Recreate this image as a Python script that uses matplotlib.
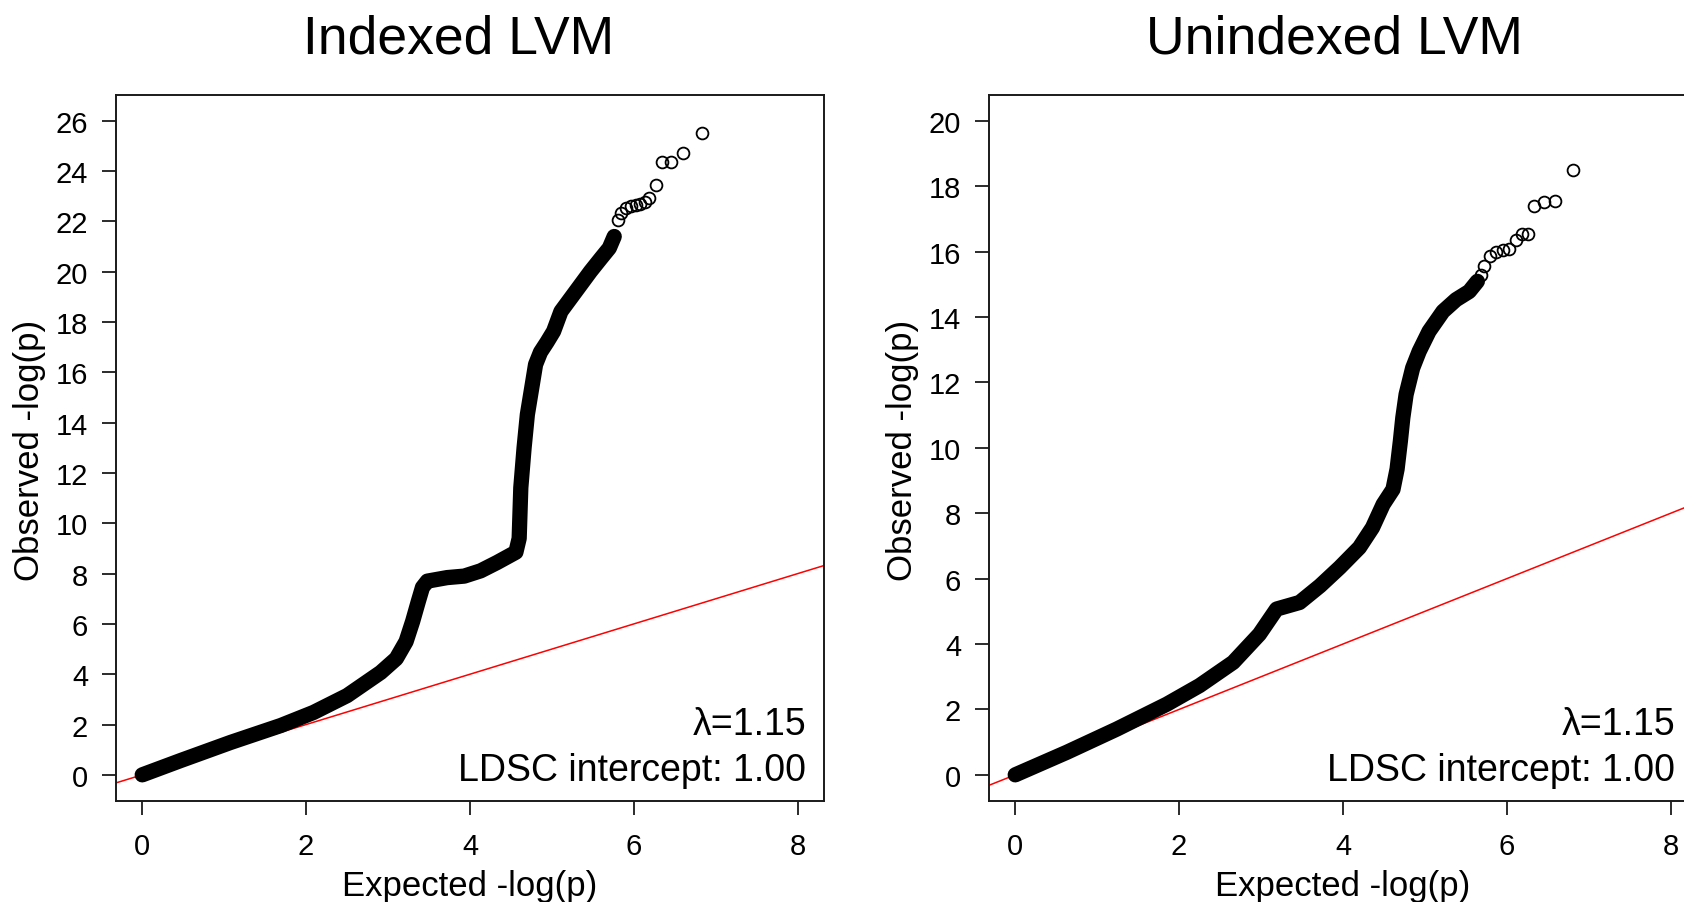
import matplotlib
matplotlib.use("Agg")
import matplotlib.pyplot as plt

plt.rcParams["font.family"] = ["Liberation Sans", "DejaVu Sans"]

# ---------------------------------------------------------
# Data
# ---------------------------------------------------------

# Indexed LVM: dense band of points
idx_band_x = [0.0, 0.47, 1.08, 1.69, 2.09, 2.50, 2.91, 3.10, 3.22, 3.30,
              3.37, 3.42, 3.48, 3.72, 3.93, 4.13, 4.33, 4.56, 4.60, 4.62,
              4.66, 4.70, 4.76, 4.80, 4.86, 4.94, 5.02, 5.11, 5.23, 5.35,
              5.47, 5.60, 5.70, 5.76]
idx_band_y = [0.0, 0.57, 1.29, 1.96, 2.48, 3.15, 4.07, 4.62, 5.30, 6.10,
              6.90, 7.45, 7.70, 7.84, 7.90, 8.11, 8.44, 8.85, 9.40, 11.41,
              13.0, 14.32, 15.51, 16.31, 16.80, 17.20, 17.63, 18.42, 18.95, 19.48,
              20.01, 20.54, 20.94, 21.40]

# Indexed LVM: sparse top points
idx_tail_x = [5.81, 5.84, 5.90, 5.96, 6.02, 6.08, 6.13, 6.18, 6.27, 6.34,
              6.45, 6.60, 6.83]
idx_tail_y = [22.06, 22.33, 22.52, 22.63, 22.66, 22.68, 22.76, 22.92, 23.45, 24.35,
              24.38, 24.73, 25.53]

# Unindexed LVM: dense band of points
unidx_band_x = [0.0, 0.63, 1.24, 1.85, 2.25, 2.66, 2.98, 3.19, 3.47, 3.72,
                3.96, 4.20, 4.36, 4.49, 4.61, 4.66, 4.70, 4.73, 4.77, 4.85,
                4.93, 5.05, 5.22, 5.38, 5.54, 5.64]
unidx_band_y = [0.0, 0.69, 1.40, 2.16, 2.73, 3.44, 4.30, 5.07, 5.27, 5.78,
                6.34, 6.95, 7.56, 8.27, 8.73, 9.35, 10.2, 10.92, 11.63, 12.44,
                12.95, 13.56, 14.17, 14.53, 14.78, 15.09]

# Unindexed LVM: sparse top points
unidx_tail_x = [5.68, 5.72, 5.79, 5.87, 5.95, 6.03, 6.11, 6.19, 6.26, 6.33,
                6.45, 6.59, 6.81]
unidx_tail_y = [15.29, 15.55, 15.85, 16.00, 16.05, 16.08, 16.36, 16.53, 16.54, 17.40,
                17.53, 17.55, 18.50]

titles = ["Indexed LVM", "Unindexed LVM"]
lambda_text = "\u03bb=1.15"
ldsc_text = "LDSC intercept: 1.00"

W, H = 1684, 903


def px_x(v):
    return v / W


def px_y(v):
    return (H - v) / H


# ---------------------------------------------------------
# One QQ panel
# ---------------------------------------------------------
def qq_panel(fig, left_px, band_x, band_y, tail_x, tail_y, y_max, text_right):

    ax = fig.add_axes([
        px_x(left_px),
        px_y(802),
        708 / W,
        706.4 / H
    ])

    pad_y = y_max * 0.04
    ax.set_xlim(-0.32, 8.32)
    ax.set_ylim(-pad_y, y_max + pad_y)

    ax.axline((0, 0), slope=1, color="red", lw=1.1, zorder=1)

    ax.plot(band_x, band_y, color="black", lw=11,
            solid_capstyle="round", solid_joinstyle="round", zorder=2)

    ax.plot(tail_x, tail_y, linestyle="none", marker="o", ms=8.5,
            mfc="none", mec="black", mew=1.3, zorder=3)

    ax.set_xticks(range(0, 9, 2))
    ax.set_yticks(range(0, int(y_max) + 1, 2))

    ax.tick_params(axis="both", direction="out", length=10, width=1.3,
                   labelsize=21, color="#1a1a1a")
    ax.tick_params(axis="x", pad=12.5)
    ax.tick_params(axis="y", pad=10)

    for s in ax.spines.values():
        s.set_linewidth(1.4)
        s.set_color("#1a1a1a")

    ax.text(text_right, 0.0948, lambda_text, transform=ax.transAxes,
            ha="right", va="baseline", fontsize=27)
    ax.text(text_right, 0.0297, ldsc_text, transform=ax.transAxes,
            ha="right", va="baseline", fontsize=27)

    return ax


fig = plt.figure(figsize=(W / 100, H / 100), dpi=100)

qq_panel(fig, 116, idx_band_x, idx_band_y, idx_tail_x, idx_tail_y, 26, 0.9746)
qq_panel(fig, 989, unidx_band_x, unidx_band_y, unidx_tail_x, unidx_tail_y, 20, 0.969)

# ---------------------------------------------------------
# Titles and axis labels
# ---------------------------------------------------------
fig.text(px_x(459), px_y(54), titles[0], ha="center", va="baseline", fontsize=38.5)
fig.text(px_x(1334), px_y(54), titles[1], ha="center", va="baseline", fontsize=38.5)

for cx in [470, 1343]:
    fig.text(px_x(cx), px_y(896), "Expected -log(p)", ha="center",
             va="baseline", fontsize=25)

for cx in [30, 903]:
    fig.text(px_x(cx), px_y(450), "Observed -log(p)", ha="center",
             va="center", rotation=90, fontsize=25)

fig.savefig("out.png", dpi=100, facecolor="white")
